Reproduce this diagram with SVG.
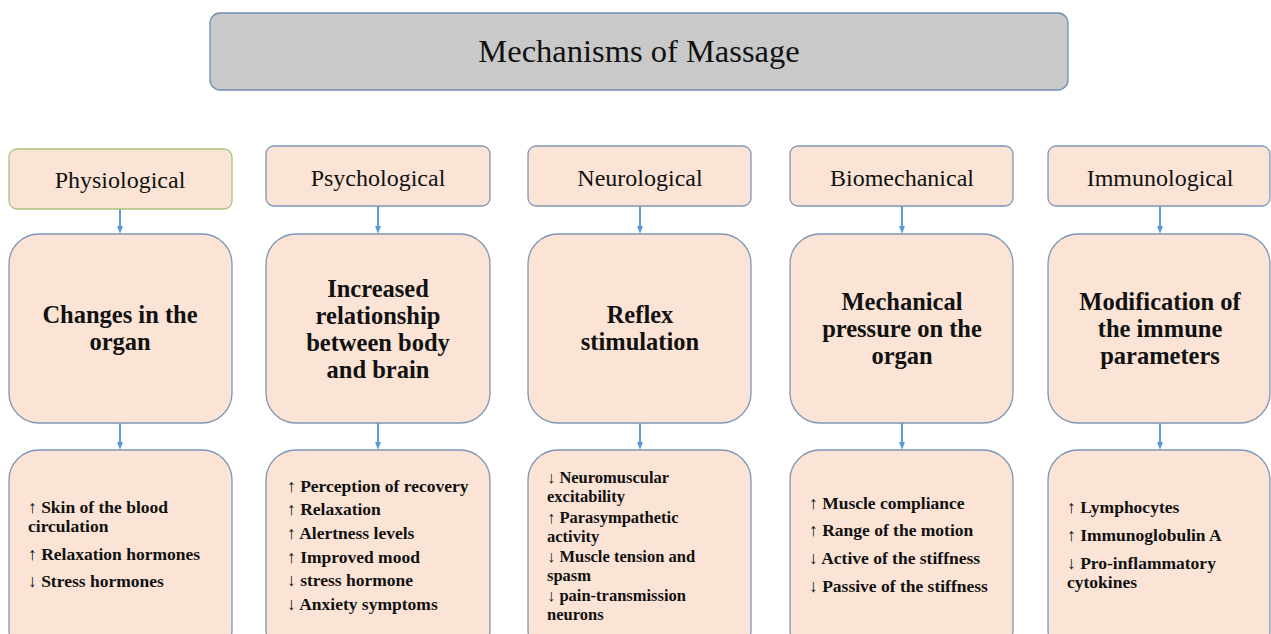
<svg xmlns="http://www.w3.org/2000/svg" width="1271" height="634" viewBox="0 0 1271 634">
<style>
.box{fill:#fbe4d6;stroke:#7f96b5;stroke-width:1.3}
.title{fill:#c9c9c9;stroke:#6f8db3;stroke-width:1.3}
.t{font-family:"Liberation Serif","Times New Roman",serif;fill:#111}
.h{font-size:24px;text-anchor:middle}
.m{font-size:24.5px;font-weight:bold;text-anchor:middle}
.b{font-size:17.5px;font-weight:bold}
.n{font-size:16.5px}
.c{stroke:#5b9bd5;stroke-width:2;fill:none;marker-end:url(#ah)}
</style>
<defs>
<marker id="ah" markerWidth="8" markerHeight="8" refX="4" refY="3" orient="auto" markerUnits="userSpaceOnUse" viewBox="0 0 8 6">
<path d="M0,0 L8,3 L0,6 Z" fill="#5b9bd5"/>
</marker>
</defs>
<rect width="1271" height="634" fill="#fff"/>
<g id="title">
<rect class="title" x="210" y="13" width="858" height="77" rx="10"/>
<text class="t" x="639" y="62" font-size="32.5" text-anchor="middle">Mechanisms of Massage</text>
</g>
<g id="connectors">
<path class="c" d="M120,209 V230"/>
<path class="c" d="M378,206 V230"/>
<path class="c" d="M640,206 V230"/>
<path class="c" d="M902,206 V230"/>
<path class="c" d="M1160,206 V230"/>
<path class="c" d="M120,423 V446"/>
<path class="c" d="M378,423 V446"/>
<path class="c" d="M640,423 V446"/>
<path class="c" d="M902,423 V446"/>
<path class="c" d="M1160,423 V446"/>
</g>
<g id="physiological">
<rect class="box" x="9" y="149" width="223" height="60" rx="8" style="stroke:#a9c47f"/>
<text class="t h" x="120" y="188">Physiological</text>
</g>
<g id="psychological">
<rect class="box" x="266" y="146" width="224" height="60" rx="8"/>
<text class="t h" x="378" y="186">Psychological</text>
</g>
<g id="neurological">
<rect class="box" x="528" y="146" width="223" height="60" rx="8"/>
<text class="t h" x="640" y="186">Neurological</text>
</g>
<g id="biomechanical">
<rect class="box" x="790" y="146" width="223" height="60" rx="8"/>
<text class="t h" x="902" y="186">Biomechanical</text>
</g>
<g id="immunological">
<rect class="box" x="1048" y="146" width="222" height="60" rx="8"/>
<text class="t h" x="1160" y="186">Immunological</text>
</g>
<g id="changes">
<rect class="box" x="9" y="234" width="223" height="189" rx="30"/>
<text class="t m" x="120" y="323">Changes in the</text>
<text class="t m" x="120" y="350">organ</text>
</g>
<g id="relationship">
<rect class="box" x="266" y="234" width="224" height="189" rx="30"/>
<text class="t m" x="378" y="297">Increased</text>
<text class="t m" x="378" y="324">relationship</text>
<text class="t m" x="378" y="351">between body</text>
<text class="t m" x="378" y="378">and brain</text>
</g>
<g id="reflex">
<rect class="box" x="528" y="234" width="223" height="189" rx="30"/>
<text class="t m" x="640" y="323">Reflex</text>
<text class="t m" x="640" y="350">stimulation</text>
</g>
<g id="mechanical">
<rect class="box" x="790" y="234" width="223" height="189" rx="30"/>
<text class="t m" x="902" y="310">Mechanical</text>
<text class="t m" x="902" y="337">pressure on the</text>
<text class="t m" x="902" y="364">organ</text>
</g>
<g id="modification">
<rect class="box" x="1048" y="234" width="222" height="189" rx="30"/>
<text class="t m" x="1160" y="310">Modification of</text>
<text class="t m" x="1160" y="337">the immune</text>
<text class="t m" x="1160" y="364">parameters</text>
</g>
<g id="physio-effects">
<rect class="box" x="9" y="450" width="223" height="210" rx="30"/>
<text class="t b" x="28" y="513">↑ Skin of the blood</text>
<text class="t b" x="28" y="532">circulation</text>
<text class="t b" x="28" y="560">↑ Relaxation hormones</text>
<text class="t b" x="28" y="587">↓ Stress hormones</text>
</g>
<g id="psycho-effects">
<rect class="box" x="266" y="450" width="224" height="210" rx="30"/>
<text class="t b" x="287" y="492">↑ Perception of recovery</text>
<text class="t b" x="287" y="515">↑ Relaxation</text>
<text class="t b" x="287" y="539">↑ Alertness levels</text>
<text class="t b" x="287" y="563">↑ Improved mood</text>
<text class="t b" x="287" y="586">↓ stress hormone</text>
<text class="t b" x="287" y="610">↓ Anxiety symptoms</text>
</g>
<g id="neuro-effects">
<rect class="box" x="528" y="450" width="223" height="210" rx="30"/>
<text class="t b n" x="547" y="483">↓ Neuromuscular</text>
<text class="t b n" x="547" y="502">excitability</text>
<text class="t b n" x="547" y="523">↑ Parasympathetic</text>
<text class="t b n" x="547" y="542">activity</text>
<text class="t b n" x="547" y="562">↓ Muscle tension and</text>
<text class="t b n" x="547" y="581">spasm</text>
<text class="t b n" x="547" y="601">↓ pain-transmission</text>
<text class="t b n" x="547" y="620">neurons</text>
</g>
<g id="biomech-effects">
<rect class="box" x="790" y="450" width="223" height="210" rx="30"/>
<text class="t b" x="809" y="509">↑ Muscle compliance</text>
<text class="t b" x="809" y="536">↑ Range of the motion</text>
<text class="t b" x="809" y="564">↓ Active of the stiffness</text>
<text class="t b" x="809" y="592">↓ Passive of the stiffness</text>
</g>
<g id="immuno-effects">
<rect class="box" x="1048" y="450" width="222" height="210" rx="30"/>
<text class="t b" x="1067" y="513">↑ Lymphocytes</text>
<text class="t b" x="1067" y="541">↑ Immunoglobulin A</text>
<text class="t b" x="1067" y="569">↓ Pro-inflammatory</text>
<text class="t b" x="1067" y="588">cytokines</text>
</g>
</svg>
